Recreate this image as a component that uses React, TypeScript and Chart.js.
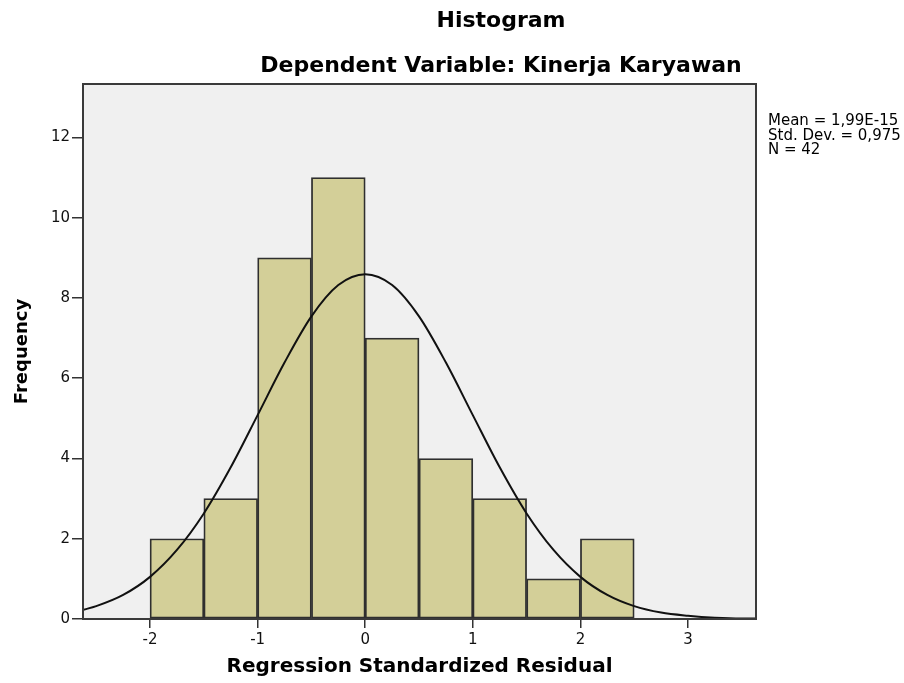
import React, { useEffect, useRef } from 'react';
import { Chart, registerables } from 'chart.js';

Chart.register(...registerables);

// ---- data ----
const BIN_CENTERS = [-1.75, -1.25, -0.75, -0.25, 0.25, 0.75, 1.25, 1.75, 2.25];
const FREQUENCIES = [2, 3, 9, 11, 7, 4, 3, 1, 2];

const CURVE_X = [-2.62, -2.5, -2.25, -2.0, -1.75, -1.5, -1.25, -1.0, -0.75, -0.5, -0.25, 0, 0.25, 0.5, 0.75, 1.0, 1.25, 1.5, 1.75, 2.0, 2.25, 2.5, 2.75, 3.0, 3.25, 3.5, 3.63];
const CURVE_Y = [0.23, 0.32, 0.6, 1.05, 1.72, 2.63, 3.78, 5.08, 6.39, 7.54, 8.32, 8.59, 8.32, 7.54, 6.39, 5.08, 3.78, 2.63, 1.72, 1.05, 0.6, 0.32, 0.16, 0.08, 0.03, 0.01, 0.01];

const X_TICKS = [-2, -1, 0, 1, 2, 3];
const Y_TICKS = [0, 2, 4, 6, 8, 10, 12];

const TITLE = 'Histogram';
const SUBTITLE = 'Dependent Variable: Kinerja Karyawan';
const STATS = ['Mean = 1,99E-15', 'Std. Dev. = 0,975', 'N = 42'];
const X_TITLE = 'Regression Standardized Residual';
const Y_TITLE = 'Frequency';

const X_MIN = -2.623;
const X_MAX = 3.632;
const Y_MIN = 0;
const Y_MAX = 13.33;

const FONT = "'DejaVu Sans', sans-serif";

const framePlugin = {
  id: 'spssFrame',
  beforeDraw(chart: any) {
    const { ctx, chartArea: a } = chart;
    ctx.save();
    ctx.fillStyle = '#f0f0f0';
    ctx.fillRect(a.left, a.top, a.right - a.left, a.bottom - a.top);
    ctx.restore();
  },
  afterDraw(chart: any) {
    const { ctx, chartArea: a } = chart;
    ctx.save();
    ctx.strokeStyle = '#3a3a3a';
    ctx.lineWidth = 2;
    ctx.strokeRect(a.left, a.top, a.right - a.left, a.bottom - a.top);

    ctx.fillStyle = '#000';
    ctx.textAlign = 'center';
    ctx.textBaseline = 'middle';
    ctx.font = `bold 22px ${FONT}`;
    ctx.fillText(TITLE, 501, 21);
    ctx.fillText(SUBTITLE, 501, 66);

    ctx.font = `15px ${FONT}`;
    ctx.textAlign = 'left';
    STATS.forEach((s, i) => ctx.fillText(s, 768, 121.5 + i * 14.2));
    ctx.restore();
  },
};

export default function App() {
  const ref = useRef<HTMLCanvasElement | null>(null);

  useEffect(() => {
    document.body.style.margin = '0';
    const canvas = ref.current;
    if (!canvas) return;
    const chart = new Chart(canvas, {
      type: 'bar',
      data: {
        datasets: [
          {
            type: 'line',
            label: 'Normal',
            data: CURVE_X.map((x, i) => ({ x, y: CURVE_Y[i] })),
            borderColor: '#111',
            borderWidth: 2,
            pointRadius: 0,
            fill: false,
            cubicInterpolationMode: 'monotone',
            order: 0,
          } as any,
          {
            type: 'bar',
            label: 'Frequency',
            data: BIN_CENTERS.map((x, i) => ({ x, y: FREQUENCIES[i] })),
            backgroundColor: '#d3cf98',
            borderColor: '#2f2f2f',
            borderWidth: 1.8,
            borderSkipped: false,
            barPercentage: 1,
            categoryPercentage: 1,
            order: 1,
          } as any,
        ],
      },
      options: {
        animation: false,
        responsive: false,
        devicePixelRatio: 1,
        layout: { padding: { top: 84, right: 148, left: 0, bottom: 0 } },
        plugins: {
          legend: { display: false },
          title: { display: false },
          tooltip: { enabled: false },
        },
        events: [],
        scales: {
          x: {
            type: 'linear',
            min: X_MIN,
            max: X_MAX,
            offset: false,
            afterBuildTicks: (s: any) => {
              s.ticks = X_TICKS.map((v) => ({ value: v }));
            },
            afterFit: (s: any) => {
              s.height = 64;
            },
            grid: {
              display: true,
              offset: false,
              drawOnChartArea: false,
              drawTicks: true,
              tickLength: 9,
              color: '#333',
              lineWidth: 1.5,
            },
            border: { display: false },
            ticks: {
              padding: 3,
              color: '#111',
              font: { family: FONT, size: 15 },
              maxRotation: 0,
              autoSkip: false,
            },
            title: {
              display: true,
              text: X_TITLE,
              color: '#000',
              font: { family: FONT, size: 20, weight: 'bold' },
              padding: { top: 0, bottom: 4 },
            },
          },
          y: {
            type: 'linear',
            min: Y_MIN,
            max: Y_MAX,
            afterBuildTicks: (s: any) => {
              s.ticks = Y_TICKS.map((v) => ({ value: v }));
            },
            afterFit: (s: any) => {
              s.width = 83;
            },
            grid: {
              display: true,
              drawOnChartArea: false,
              drawTicks: true,
              tickLength: 11,
              color: '#333',
              lineWidth: 1.5,
            },
            border: { display: false },
            ticks: {
              padding: 2,
              color: '#111',
              font: { family: FONT, size: 15 },
              autoSkip: false,
            },
            title: {
              display: true,
              text: Y_TITLE,
              color: '#000',
              font: { family: FONT, size: 18, weight: 'bold' },
              padding: { top: 12, bottom: 0 },
            },
          },
        },
      } as any,
      plugins: [framePlugin],
    });
    return () => chart.destroy();
  }, []);

  return (
    <div style={{ width: 904, height: 683 }}>
      <canvas ref={ref} width={904} height={683} style={{ display: 'block', width: 904, height: 683 }} />
    </div>
  );
}
